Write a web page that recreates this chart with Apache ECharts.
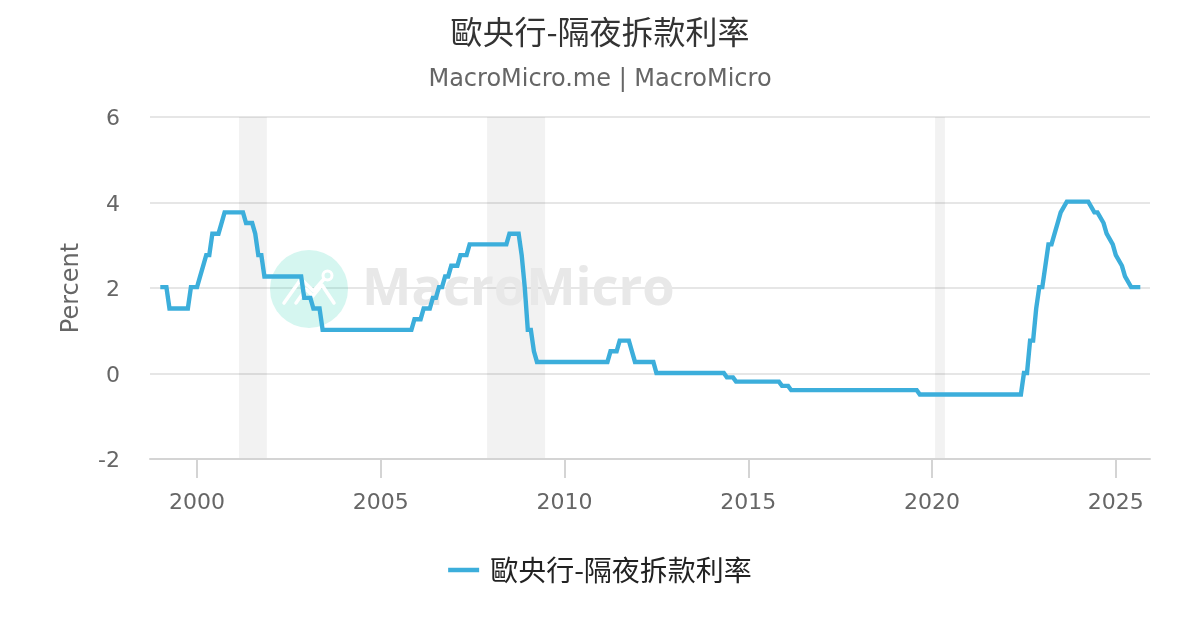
<!DOCTYPE html>
<html><head><meta charset="utf-8">
<style>html,body{margin:0;padding:0;background:#fff}#c{width:1200px;height:630px}</style>
<script src="https://cdn.jsdelivr.net/npm/echarts@6/dist/echarts.min.js"></script>
</head><body><div id="c"></div>
<script>
const titleText = '歐央行-隔夜拆款利率';
const subtitleText = 'MacroMicro.me | MacroMicro';
const seriesName = '歐央行-隔夜拆款利率';
const axisName = 'Percent';
const yearTicks = [2000, 2005, 2010, 2015, 2020, 2025];
// months where the plotted monthly line turns
const months = ['1999-01','1999-03','1999-04','1999-10','1999-11','2000-01','2000-02','2000-03','2000-04','2000-05','2000-06','2000-08','2000-09','2000-10','2001-04','2001-05','2001-07','2001-08','2001-09','2001-10','2001-11',
'2002-11','2002-12','2003-02','2003-03','2003-05','2003-06','2005-11','2005-12','2006-02','2006-03','2006-05','2006-06','2006-07','2006-08','2006-09','2006-10','2006-11','2006-12','2007-02','2007-03','2007-05','2007-06',
'2008-06','2008-07','2008-10','2008-11','2008-12','2009-01','2009-02','2009-03','2009-04','2011-03','2011-04','2011-06','2011-07','2011-10','2011-11','2011-12','2012-06','2012-07',
'2014-05','2014-06','2014-08','2014-09','2015-11','2015-12','2016-02','2016-03','2019-08','2019-09','2022-06','2022-07','2022-08','2022-09','2022-10','2022-11','2022-12','2023-01','2023-02','2023-03','2023-04','2023-05','2023-06','2023-07','2023-09',
'2024-04','2024-06','2024-07','2024-09','2024-10','2024-12','2025-01','2025-03','2025-04','2025-06','2025-09'];
const rates = [2.02,2.02,1.52,1.52,2.02,2.02,2.27,2.52,2.77,2.77,3.27,3.27,3.52,3.77,3.77,3.52,3.52,3.27,2.77,2.77,2.27,
2.27,1.77,1.77,1.52,1.52,1.02,1.02,1.27,1.27,1.52,1.52,1.77,1.77,2.02,2.02,2.27,2.27,2.52,2.52,2.77,2.77,3.02,
3.02,3.27,3.27,2.77,2.02,1.02,1.02,0.52,0.27,0.27,0.52,0.52,0.77,0.77,0.52,0.27,0.27,0.01,
0.01,-0.09,-0.09,-0.19,-0.19,-0.29,-0.29,-0.39,-0.39,-0.49,-0.49,0.01,0.01,0.77,0.77,1.52,2.02,2.02,2.52,3.02,3.02,3.27,3.52,3.77,4.02,
4.02,3.77,3.77,3.52,3.27,3.02,2.77,2.52,2.27,2.02,2.02];
const shadedBands = [[2001.14,2001.9],[2007.89,2009.47],[2020.08,2020.35]];

const toYear = m => { const [y, mo] = m.split('-').map(Number); return y + (mo - 1) / 12; };
const lineData = months.map((m, i) => [toYear(m), rates[i]]);
const grey = '#666666';
const chart = echarts.init(document.getElementById('c'), null, {renderer: 'canvas'});
chart.setOption({
  animation: false,
  backgroundColor: '#ffffff',
  title: {
    text: titleText, subtext: subtitleText, left: 'center', top: 11, itemGap: 20,
    textStyle: {fontFamily: '"Noto Sans CJK TC","DejaVu Sans",sans-serif', fontSize: 32, fontWeight: 'normal', color: '#333333'},
    subtextStyle: {fontFamily: '"DejaVu Sans",sans-serif', fontSize: 24, color: grey}
  },
  legend: {
    bottom: 41, left: 'center', itemWidth: 31, itemHeight: 4.5, icon: 'rect',
    textStyle: {fontFamily: '"Noto Sans CJK TC","DejaVu Sans",sans-serif', fontSize: 28, color: '#222222', padding: [0,0,0,6]},
    data: [seriesName]
  },
  grid: {left: 150, right: 50, top: 117, bottom: 171},
  xAxis: {
    type: 'value', min: 1998.72, max: 2025.93,
    splitLine: {show: false},
    axisLine: {show: true, onZero: false, lineStyle: {color: '#d4d4d4', width: 2}},
    axisTick: {show: true, customValues: yearTicks, length: 19, lineStyle: {color: '#d4d4d4', width: 2}},
    axisLabel: {customValues: yearTicks, margin: 33, formatter: v => String(Math.round(v)), fontFamily: '"DejaVu Sans",sans-serif', fontSize: 22, color: grey}
  },
  yAxis: {
    type: 'value', min: -2, max: 6, interval: 2,
    name: axisName, nameLocation: 'middle', nameGap: 66, nameRotate: 90,
    nameTextStyle: {fontFamily: '"DejaVu Sans",sans-serif', fontSize: 24, color: grey},
    axisLine: {show: false}, axisTick: {show: false},
    splitLine: {lineStyle: {color: '#e6e6e6', width: 2}},
    axisLabel: {margin: 30, formatter: '{v|{value}}',
      rich: {v: {padding: [5,0,0,0], fontFamily: '"DejaVu Sans",sans-serif', fontSize: 22, color: grey}}}
  },
  graphic: [
    {type: 'circle', z: 1, silent: true, shape: {cx: 309, cy: 289, r: 39}, style: {fill: 'rgba(46,210,180,0.2)'}},
    {type: 'polyline', z: 1, silent: true, shape: {points: [[284,303],[301,279],[313.5,291],[324,279]]}, style: {stroke: '#fff', lineWidth: 3.5, fill: null, lineCap: 'round', lineJoin: 'round'}},
    {type: 'polyline', z: 1, silent: true, shape: {points: [[296,303],[306,289],[313,296],[322,285],[334,303]]}, style: {stroke: '#fff', lineWidth: 3.5, fill: null, lineCap: 'round', lineJoin: 'round'}},
    {type: 'circle', z: 1, silent: true, shape: {cx: 327.5, cy: 275.5, r: 4.5}, style: {stroke: '#fff', lineWidth: 3, fill: null}},
    {type: 'text', z: 1, silent: true, style: {text: 'MacroMicro', x: 362, y: 290, verticalAlign: 'middle', fontFamily: '"Open Sans",sans-serif', fontWeight: 'bold', fontSize: 52.4, fill: '#e8e8e8', blend: 'darken'}}
  ],
  series: [{
    name: seriesName, type: 'line', data: lineData, showSymbol: false, smooth: false,
    lineStyle: {color: '#3caedb', width: 4.4, join: 'miter', cap: 'butt'}, itemStyle: {color: '#3caedb'},
    markArea: {z: 0, silent: true, itemStyle: {color: 'rgba(0,0,0,0.05)'}, data: shadedBands.map(b => [{xAxis: b[0]}, {xAxis: b[1]}])}
  }]
});
</script></body></html>
